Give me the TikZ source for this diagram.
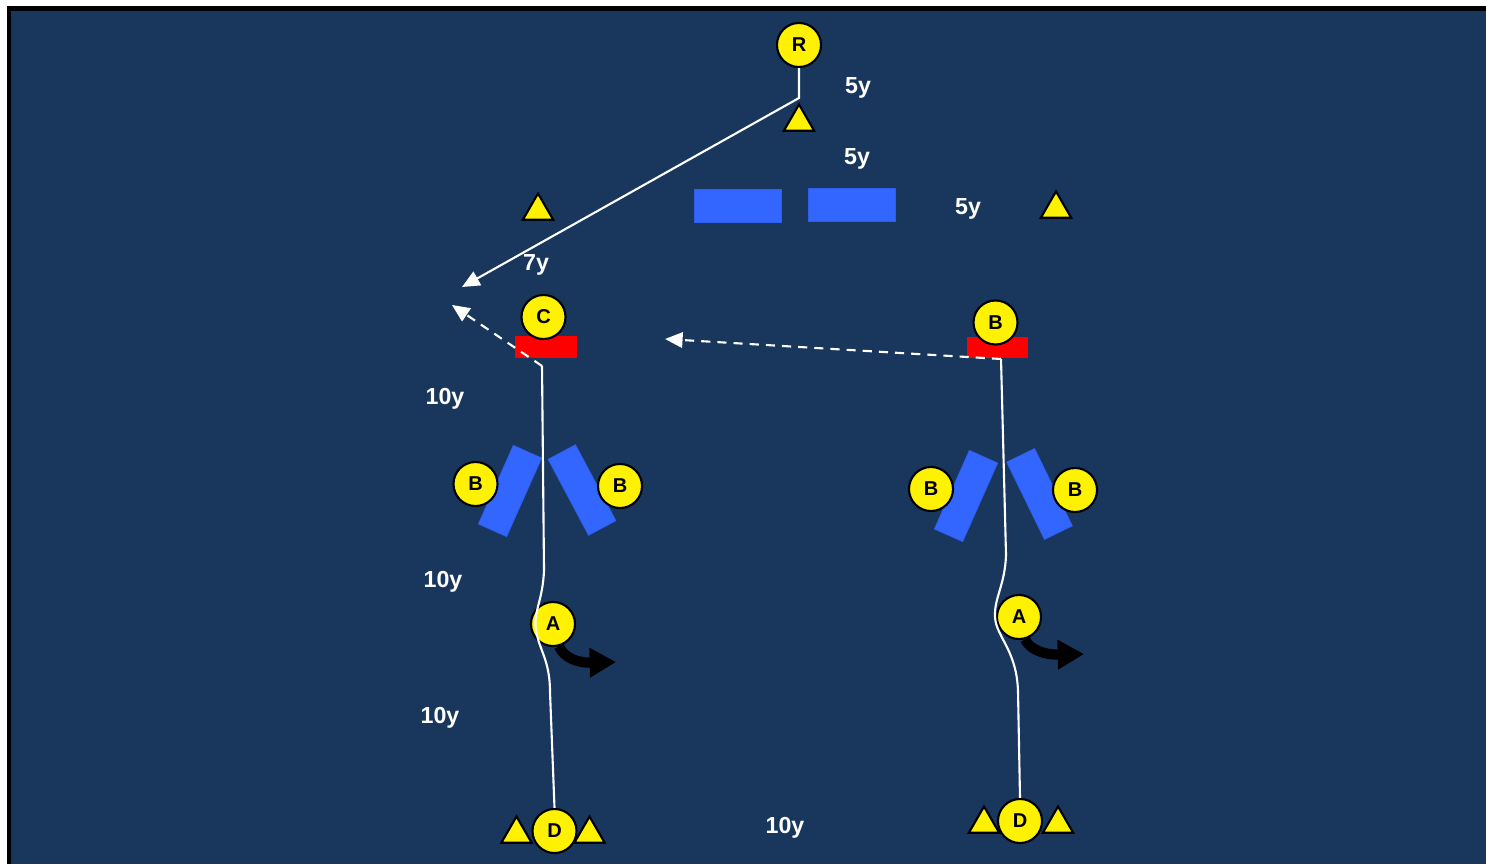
\documentclass[tikz,border=0pt]{standalone}
\usepackage{fontspec}
\setmainfont{Liberation Sans}
\usetikzlibrary{arrows.meta,shapes.geometric}

\definecolor{pitch}{RGB}{25,54,93}
\definecolor{bag}{RGB}{51,102,255}

\begin{document}
\begin{tikzpicture}[x=0.01cm, y=-0.01cm,
    player/.style={circle, draw=black, line width=0.6pt, fill=yellow, minimum size=0.44cm, inner sep=0pt, font=\fontsize{5.7}{6}\selectfont\bfseries},
    cone/.style={regular polygon, regular polygon sides=3, draw=black, line width=0.6pt, fill=yellow, minimum size=0.35cm, inner sep=0pt},
    yards/.style={text=white, font=\fontsize{6.6}{8}\selectfont\bfseries},
    bagpad/.style={fill=bag, draw=bag!92!black, line width=0.2pt, minimum width=0.31cm, minimum height=0.86cm, inner sep=0pt},
    shield/.style={fill=red, minimum width=0.61cm, minimum height=0.21cm, inner sep=0pt},
    run/.style={white, line width=0.6pt},
    pass/.style={white, line width=0.6pt, dash pattern=on 2.6pt off 2pt},
    whitehead/.style={-{Triangle[length=5pt,width=4.4pt]}},
    turn/.style={black, line width=2.9pt, -{Triangle[length=7.5pt,width=8pt]}}
  ]

    % Field
    \fill[white] (0,0) rectangle (1486,864);
    \fill[black] (7,6) rectangle (1486,864);
    \fill[pitch] (11,11) rectangle (1486,864);
    \useasboundingbox (0,0) rectangle (1486,864);

    % Bags
    \node[bagpad, minimum width=0.87cm, minimum height=0.33cm] (bagl) at (737.5,205.5) {};
    \node[bagpad, minimum width=0.87cm, minimum height=0.33cm] (bagr) at (851.5,204.5) {};
    \node[bagpad, rotate=-24] (bag1a) at (510,491) {};
    \node[bagpad, rotate=28] (bag1b) at (582,490) {};
    \node[bagpad, rotate=-24] (bag2a) at (966,496) {};
    \node[bagpad, rotate=26] (bag2b) at (1039.5,494) {};

    % Shields
    \node[shield] (sh1) at (546,347) {};
    \node[shield] (sh2) at (997.5,347.5) {};

    % Cones
    \node[cone] (cr) at (799,122) {};
    \node[cone] (cl) at (538,211) {};
    \node[cone] (ce) at (1056,209) {};
    \node[cone] (c1l) at (516.5,834) {};
    \node[cone] (c1r) at (589.5,834) {};
    \node[cone] (c2l) at (984,824) {};
    \node[cone] (c2r) at (1058,824) {};

    % Players
    \node[player] (R) at (799,45) {R};
    \node[player] (C1) at (543.5,317) {C};
    \node[player] (B2) at (995.5,322.5) {B};
    \node[player] (B1l) at (475.5,484) {B};
    \node[player] (B1r) at (620,486) {B};
    \node[player] (B2l) at (931,489) {B};
    \node[player] (B2r) at (1075,490) {B};
    \node[player] (A1) at (553,624) {A};
    \node[player] (A2) at (1019,617) {A};
    \node[player] (D1) at (554.5,831) {D};
    \node[player] (D2) at (1020,821) {D};

    % Route from R
    \coordinate (corner) at (799,98);
    \coordinate (cut) at (462,287);
    \draw[run, whitehead] (R.south) -- (corner) -- (cut);

    % Passes
    \coordinate (c1run) at (542,366);
    \coordinate (c1pass) at (452,305);
    \draw[pass, whitehead] (c1run) -- (c1pass);
    \coordinate (b2run) at (1001,359);
    \coordinate (b2pass) at (665,339);
    \draw[pass, whitehead] (b2run) -- (b2pass);

    % Runs up the lanes
    \draw[run] (c1run) -- (544,570) .. controls (543,600) and (533,612) .. (536,630)
        .. controls (539,650) and (550,660) .. (550,692) -- (D1.north);
    \draw[run] (b2run) -- (1006,555) .. controls (1005,585) and (994,598) .. (995,617)
        .. controls (996,637) and (1017,650) .. (1018,692) -- (D2.north);

    % Turns
    \coordinate (A1tip) at (616,662);
    \coordinate (A2tip) at (1084,654);
    \draw[turn] (A1.-75) .. controls (564,658) and (578,663) .. (A1tip);
    \draw[turn] (A2.-75) .. controls (1030,650) and (1045,655) .. (A2tip);

    % Distances
    \node[yards] (y1) at (858,88) {5y};
    \node[yards] (y2) at (857,159) {5y};
    \node[yards] (y3) at (968,209) {5y};
    \node[yards] (y4) at (536,265) {7y};
    \node[yards] (y5) at (445,399) {10y};
    \node[yards] (y6) at (443,582) {10y};
    \node[yards] (y7) at (440,718) {10y};
    \node[yards] (y8) at (785,828) {10y};

\end{tikzpicture}
\end{document}
